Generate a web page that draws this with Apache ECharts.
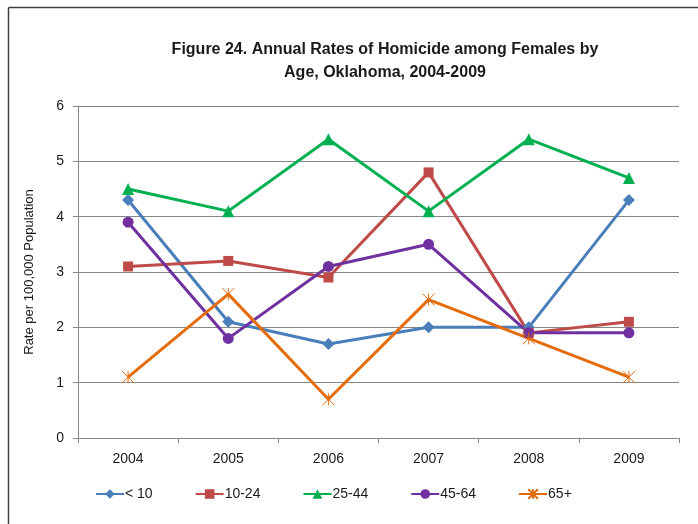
<!DOCTYPE html>
<html>
<head>
<meta charset="utf-8">
<script src="https://cdn.jsdelivr.net/npm/echarts@6/dist/echarts.min.js"></script>
<style>
  html, body { margin: 0; padding: 0; background: #fff; }
  #chart { width: 698px; height: 524px; }
</style>
</head>
<body>
<div id="chart"></div>
<script>
// data
const years = ["2004", "2005", "2006", "2007", "2008", "2009"];
const under10 = [4.3, 2.1, 1.7, 2.0, 2.0, 4.3];
const age10to24 = [3.1, 3.2, 2.9, 4.8, 1.9, 2.1];
const age25to44 = [4.5, 4.1, 5.4, 4.1, 5.4, 4.7];
const age45to64 = [3.9, 1.8, 3.1, 3.5, 1.9, 1.9];
const age65plus = [1.1, 2.6, 0.7, 2.5, 1.8, 1.1];

const font = "'Liberation Sans Narrow', 'Arial Narrow', 'Liberation Sans', sans-serif";
const axisGray = "#868686";

// asterisk marker (x with a vertical bar)
const starPath = "path://M0 0 L10 10 M10 0 L0 10 M5 0 L5 10";

function makeSeries(name, data, color, symbol, size) {
  return {
    name: name,
    type: "line",
    data: data,
    symbol: symbol,
    symbolSize: size,
    showAllSymbol: true,
    lineStyle: { color: color, width: 3 },
    itemStyle: { color: color, borderColor: color, borderWidth: symbol === starPath ? 1 : 0 },
    emphasis: { disabled: true },
    z: 2
  };
}

const myChart = echarts.init(document.getElementById("chart"), null, { renderer: "canvas" });

const option = {
  animation: false,
  textStyle: { fontFamily: font },
  title: {
    text: "Figure 24. Annual Rates of Homicide among Females by\nAge, Oklahoma, 2004-2009",
    left: 380,
    top: 33,
    textAlign: "center",
    textStyle: { fontFamily: font, fontSize: 16, fontWeight: "bold", color: "#1a1a1a", lineHeight: 23 }
  },
  graphic: [
    // outer frame (top and left edges visible in the crop)
    { type: "line", shape: { x1: 8.5, y1: 7.5, x2: 698, y2: 7.5 }, style: { stroke: "#404040", lineWidth: 1.5 } },
    { type: "line", shape: { x1: 8.5, y1: 7.5, x2: 8.5, y2: 524 }, style: { stroke: "#404040", lineWidth: 1.5 } }
  ],
  legend: {
    bottom: 18,
    left: 90,
    itemGap: 42,
    itemWidth: 28,
    itemHeight: 12,
    textStyle: { fontFamily: font, fontSize: 14, color: "#1a1a1a", padding: [0, 0, 0, -4] },
    data: ["< 10", "10-24", "25-44", "45-64", "65+"]
  },
  grid: { left: 78, right: 19, top: 106, bottom: 86 },
  xAxis: {
    type: "category",
    data: years,
    boundaryGap: true,
    axisLine: { lineStyle: { color: axisGray, width: 1 } },
    axisTick: { show: true, alignWithLabel: false, length: 5, lineStyle: { color: axisGray } },
    axisLabel: { fontFamily: font, fontSize: 14, color: "#1a1a1a", margin: 14 }
  },
  yAxis: {
    type: "value",
    min: 0,
    max: 6,
    interval: 1,
    name: "Rate per 100,000 Population",
    nameLocation: "middle",
    nameGap: 42,
    nameTextStyle: { fontFamily: font, fontSize: 13, color: "#1a1a1a" },
    axisLine: { show: true, lineStyle: { color: axisGray } },
    axisTick: { show: true, length: 5, lineStyle: { color: axisGray } },
    axisLabel: { fontFamily: font, fontSize: 14, color: "#1a1a1a", margin: 14 },
    splitLine: { lineStyle: { color: axisGray, width: 1 } }
  },
  series: [
    makeSeries("< 10", under10, "#4A7EBB", "diamond", 12),
    makeSeries("10-24", age10to24, "#BE4B48", "rect", 10),
    makeSeries("25-44", age25to44, "#00B050", "triangle", 12),
    makeSeries("45-64", age45to64, "#7030A0", "circle", 11),
    makeSeries("65+", age65plus, "#E46C0A", starPath, 12)
  ]
};

myChart.setOption(option);
</script>
</body>
</html>
